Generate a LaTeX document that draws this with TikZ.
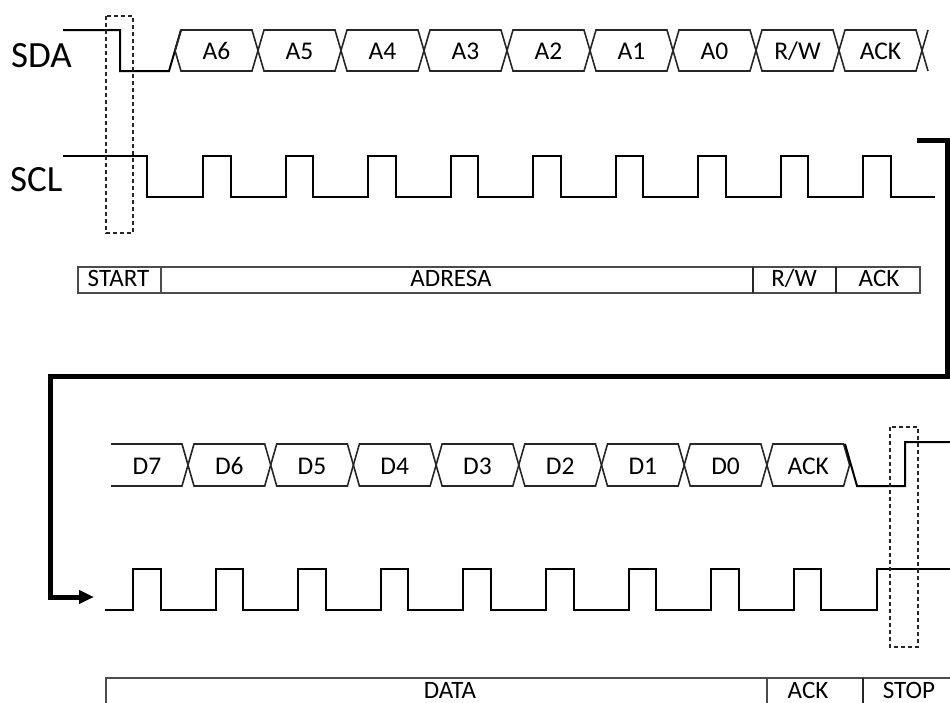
\documentclass[tikz,border=0pt]{standalone}
\usepackage{fontspec}
\setmainfont{Carlito}
\usetikzlibrary{arrows.meta}
\begin{document}
\begin{tikzpicture}[x=1pt,y=-1pt,
  sig/.style={line width=2pt, black, line join=miter},
  busline/.style={line width=1.6pt, black!85, line join=miter},
  siglabel/.style={font=\fontsize{37}{42}\selectfont, anchor=base west, inner sep=0pt},
  bit/.style={font=\fontsize{25.5}{28}\selectfont, anchor=base, inner sep=0pt},
  celltext/.style={font=\fontsize{25}{28}\selectfont, anchor=base, inner sep=0pt},
  cellline/.style={draw=black!70, line width=1.3pt},
  divider/.style={draw=black!85, line width=2pt},
  window/.style={draw=black!85, line width=1.5pt, dash pattern=on 4pt off 3pt},
  flow/.style={line width=5pt, black, line join=miter, -{Triangle[length=15pt,width=13pt]}}]
\useasboundingbox (0,0) rectangle (950,702);
\clip (0,0) rectangle (950,702);

% ---------------- top part: address frame ----------------
\node[siglabel] (sda) at (11,67) {SDA};
\node[siglabel] (scl) at (10,191) {SCL};

% SDA start condition and address bus
\draw[sig] (63,30) -- (120,30) -- (120,71) -- (169,71) -- (181,30);
\foreach \k/\t in {0/A6,1/A5,2/A4,3/A3,4/A2,5/A1,6/A0,7/R\slash W,8/ACK} {
  \pgfmathsetmacro\a{175+83*\k}
  \pgfmathsetmacro\b{\a+83}
  \draw[busline] (\a+6,30) -- (\b-6,30) -- (\b,50.5) -- (\b-6,71) -- (\a+6,71) -- (\a,50.5) -- cycle;
  \node[bit] (a\k) at ({(\a+\b)/2},59) {\t};
}
\draw[busline] (922,50.5) -- (928,30);
\draw[busline] (922,50.5) -- (928,71);

% SCL
\draw[sig] (63,156) -- (147,156) -- (147,197)
  \foreach \k in {0,...,8} { -- ({203+82.5*\k},197) -- ({203+82.5*\k},156) -- ({230.5+82.5*\k},156) -- ({230.5+82.5*\k},197) }
  -- (935,197);

% start window
\draw[window] (106,16) rectangle (133,233);

% first table row
\draw[cellline] (78,267) rectangle (920,293);
\draw[cellline] (161,267) -- (161,293);
\draw[divider] (753,267) -- (753,293);
\draw[divider] (836,267) -- (836,293);
\node[celltext] (start) at (118.5,286) {START};
\node[celltext] (adresa) at (451,286) {ADRESA};
\node[celltext] (rw) at (794,286) {R/W};
\node[celltext] (ack1) at (879,286) {ACK};

% ---------------- flow connector ----------------
\coordinate (f0) at (917,140);
\coordinate (f1) at (947,140);
\coordinate (f2) at (947,376);
\coordinate (f3) at (50,376);
\coordinate (f4) at (50,597);
\coordinate (f5) at (94,597);
\draw[flow] (f0) -- (f1) -- (f2) -- (f3) -- (f4) -- (f5);

% ---------------- bottom part: data frame ----------------
\draw[busline] (111,444) -- (182,444) -- (188,465) -- (182,486) -- (111,486);
\node[bit] (d7) at (147,474) {D7};
\foreach \k/\t in {0/D6,1/D5,2/D4,3/D3,4/D2,5/D1,6/D0,7/ACK} {
  \pgfmathsetmacro\a{188+82.7*\k}
  \pgfmathsetmacro\b{\a+82.7}
  \draw[busline] (\a+6,444) -- (\b-6,444) -- (\b,465) -- (\b-6,486) -- (\a+6,486) -- (\a,465) -- cycle;
  \node[bit] (d\k) at ({(\a+\b)/2},474) {\t};
}
\draw[sig] (845,444) -- (857,486) -- (905,486) -- (905,442) -- (950,442);

% SCL bottom
\draw[sig] (105,610)
  \foreach \k in {0,...,8} { -- ({133+82.6*\k},610) -- ({133+82.6*\k},569) -- ({160.5+82.6*\k},569) -- ({160.5+82.6*\k},610) }
  -- (877,610) -- (877,569) -- (950,569);

% stop window
\draw[window] (890,427) rectangle (918,647);

% second table row
\draw[cellline] (106,678) rectangle (960,715);
\draw[cellline] (767,678) -- (767,715);
\draw[divider] (863,678) -- (863,715);
\node[celltext] (data) at (450,698) {DATA};
\node[celltext] (ack2) at (808,698) {ACK};
\node[celltext] (stop) at (909,698) {STOP};
\end{tikzpicture}
\end{document}
